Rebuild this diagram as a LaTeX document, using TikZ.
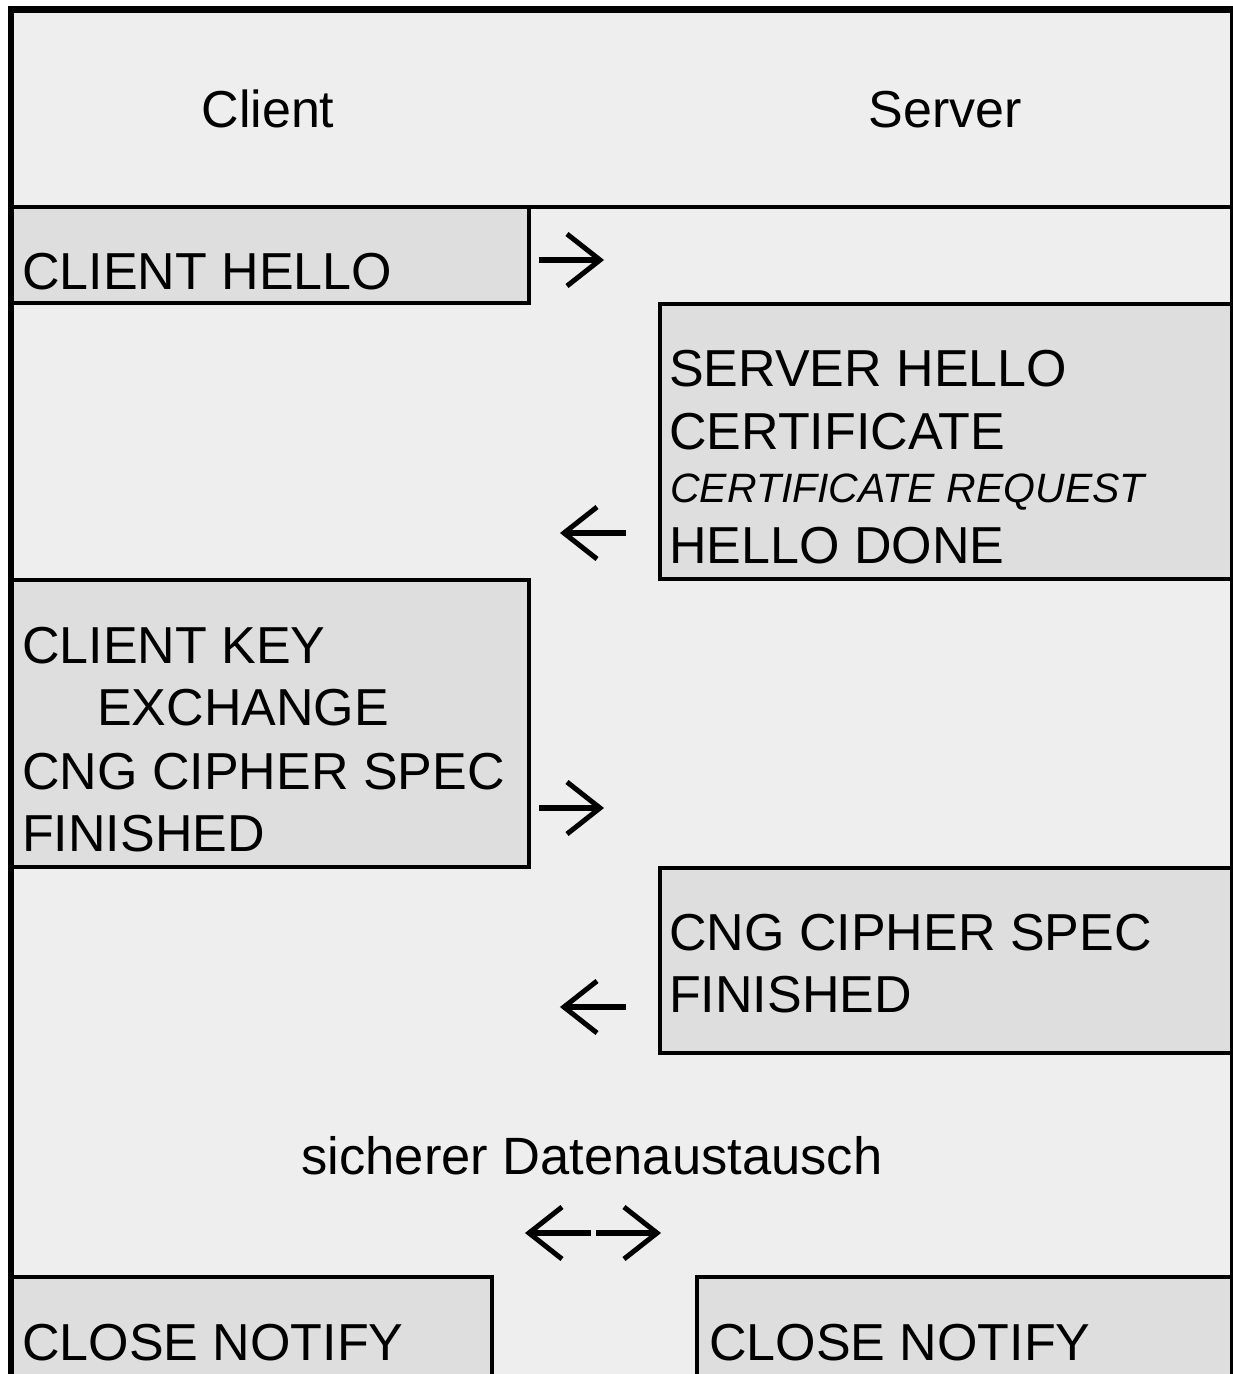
\documentclass[tikz,border=0pt]{standalone}
\usepackage{fontspec}
\setmainfont{Liberation Sans}
\definecolor{bgc}{HTML}{EEEEEE}
\definecolor{boxc}{HTML}{DEDEDE}
\begin{document}
\begin{tikzpicture}[x=1pt,y=-1pt,
  msgbox/.style={fill=boxc,draw=black,line width=3.5pt},
  lbl/.style={anchor=base west,inner sep=0pt,font=\fontsize{52}{60}\selectfont},
  hdr/.style={anchor=base,inner sep=0pt,font=\fontsize{52}{60}\selectfont},
  ital/.style={anchor=base west,inner sep=0pt,font=\fontsize{41}{48}\selectfont\itshape},
  shaft/.style={line width=6pt},
  barb/.style={line width=5pt,line join=miter}]
\useasboundingbox (0,0) rectangle (1233,1374);
\fill[bgc] (8,6) rectangle (1233,1374);
% message boxes
\filldraw[msgbox] (10,207) rectangle (529,303);
\filldraw[msgbox] (660,304) rectangle (1233,579);
\filldraw[msgbox] (10,580) rectangle (529,867);
\filldraw[msgbox] (660,868) rectangle (1233,1053);
\filldraw[msgbox] (10,1277) rectangle (492,1385);
\filldraw[msgbox] (697,1277) rectangle (1233,1385);
% frame
\draw[line width=4.5pt] (8,207) -- (1233,207);
\draw[line width=3pt] (1231.5,9) -- (1231.5,1374);
\draw[line width=7pt] (8,9.5) -- (1233,9.5);
\draw[line width=6pt] (11,6) -- (11,1374);
% header
\node[hdr] (client) at (268,127) {Client};
\node[hdr] (server) at (945,127) {Server};
% texts
\node[lbl] (ch) at (22,289) {CLIENT HELLO};
\node[lbl] (sh) at (669,386) {SERVER HELLO};
\node[lbl] (cert) at (669,449) {CERTIFICATE};
\node[ital] (creq) at (670,502) {CERTIFICATE REQUEST};
\node[lbl] (hd) at (669,563) {HELLO DONE};
\node[lbl] (ck) at (22,663) {CLIENT KEY};
\node[lbl] (ex) at (97,725) {EXCHANGE};
\node[lbl] (ccs) at (22,789) {CNG CIPHER SPEC};
\node[lbl] (fin) at (22,851) {FINISHED};
\node[lbl] (sccs) at (669,950) {CNG CIPHER SPEC};
\node[lbl] (sfin) at (669,1012) {FINISHED};
\node[hdr,font=\fontsize{52.5}{60}\selectfont] (data) at (592,1174) {sicherer Datenaustausch};
\node[lbl] (cn1) at (22,1360) {CLOSE NOTIFY};
\node[lbl] (cn2) at (709,1360) {CLOSE NOTIFY};
% arrow coordinates
\coordinate (a1s) at (539,260); \coordinate (a1t) at (600,260);
\coordinate (a2s) at (626,533); \coordinate (a2t) at (564,533);
\coordinate (a3s) at (539,808); \coordinate (a3t) at (600,808);
\coordinate (a4s) at (626,1007); \coordinate (a4t) at (564,1007);
\coordinate (a5s) at (591,1233); \coordinate (a5t) at (529,1233);
\coordinate (a6s) at (596,1233); \coordinate (a6t) at (657,1233);
% arrows
\draw[shaft] (a1s) -- (a1t);
\draw[barb] (a1t) ++(-33,-26) -- (a1t) -- ++(-33,26);
\draw[shaft] (a2s) -- (a2t);
\draw[barb] (a2t) ++(33,-26) -- (a2t) -- ++(33,26);
\draw[shaft] (a3s) -- (a3t);
\draw[barb] (a3t) ++(-33,-26) -- (a3t) -- ++(-33,26);
\draw[shaft] (a4s) -- (a4t);
\draw[barb] (a4t) ++(33,-26) -- (a4t) -- ++(33,26);
\draw[shaft] (a5s) -- (a5t);
\draw[barb] (a5t) ++(33,-26) -- (a5t) -- ++(33,26);
\draw[shaft] (a6s) -- (a6t);
\draw[barb] (a6t) ++(-33,-26) -- (a6t) -- ++(-33,26);
\end{tikzpicture}
\end{document}
